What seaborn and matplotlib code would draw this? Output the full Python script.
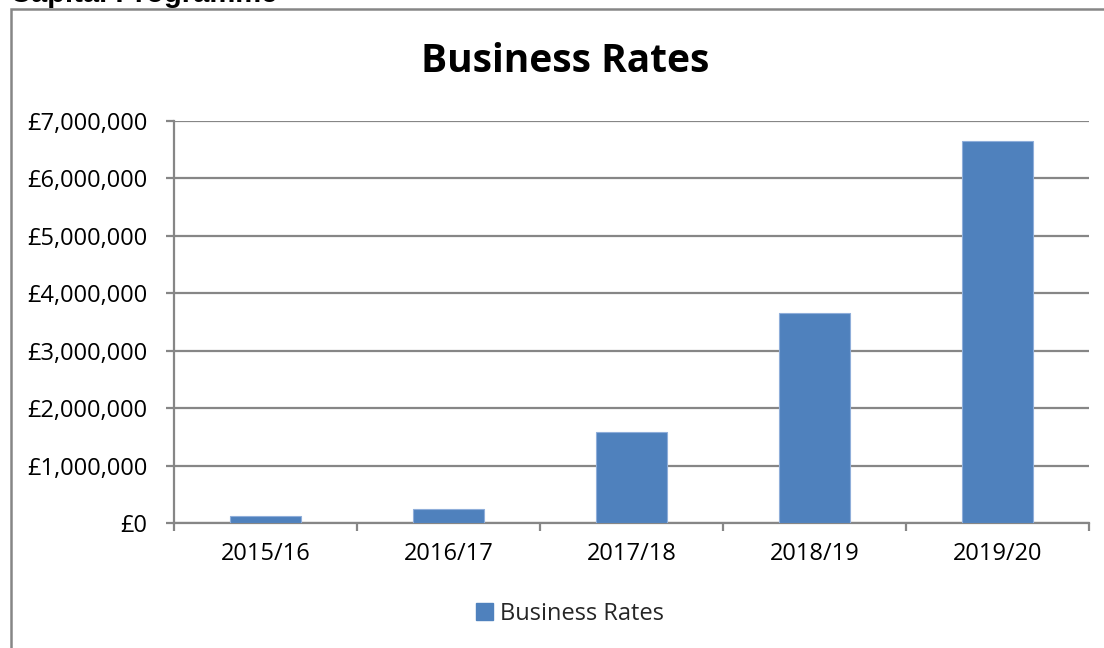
import matplotlib
matplotlib.use("Agg")
import matplotlib.pyplot as plt
import matplotlib.patches as mpatches
from matplotlib.ticker import FuncFormatter, MultipleLocator
import seaborn as sns
import pandas as pd

years = ["2015/16", "2016/17", "2017/18", "2018/19", "2019/20"]
business_rates = [130000, 245000, 1590000, 3650000, 6650000]
series_name = "Business Rates"
chart_title = "Business Rates"
page_heading = "Capital Programme"

sns.set_theme(style="white")
plt.rcParams["font.family"] = ["Open Sans", "DejaVu Sans"]

df = pd.DataFrame({"Year": years, "Value": business_rates})

W, H = 1104, 648
fig = plt.figure(figsize=(W / 100, H / 100), dpi=100)
fig.patch.set_facecolor("white")

ax = fig.add_axes([174 / W, 1 - 523 / H, (1089 - 174) / W, (523 - 121) / H])

bar_color = "#4F81BD"
grid_color = "#868686"
sns.barplot(data=df, x="Year", y="Value", color=bar_color, width=0.383,
            saturation=1, edgecolor="#8FAEDA", linewidth=0.8, ax=ax,
            label=series_name, zorder=3)

ax.set_ylim(0, 7000000)
ax.set_xlim(-0.5, len(years) - 0.5)
ax.yaxis.set_major_locator(MultipleLocator(1000000))
ax.yaxis.set_major_formatter(FuncFormatter(lambda v, p: f"£{int(v):,}"))
ax.grid(axis="y", color=grid_color, linewidth=1.6, zorder=0)
ax.set_axisbelow(True)
ax.set_xlabel("")
ax.set_ylabel("")

for s in ["top", "right"]:
    ax.spines[s].set_visible(False)
for s in ["left", "bottom"]:
    ax.spines[s].set_color(grid_color)
    ax.spines[s].set_linewidth(1.6)

# x ticks at category boundaries, labels at centres
ax.set_xticks([i - 0.5 for i in range(len(years) + 1)], minor=False)
ax.set_xticklabels([""] * (len(years) + 1))
ax.set_xticks(range(len(years)), minor=True)
ax.set_xticklabels(years, minor=True)
ax.tick_params(axis="x", which="major", direction="out", length=6, width=1.6,
               color=grid_color, bottom=True)
ax.tick_params(axis="x", which="minor", length=0, pad=14, labelsize=17,
               labelcolor="black", bottom=True)
ax.tick_params(axis="y", which="major", direction="out", length=6, width=1.6,
               color=grid_color, left=True, pad=13, labelsize=17, labelcolor="black")

# title
fig.text(565 / W, 1 - 62 / H, chart_title, ha="center", va="center",
         fontsize=28, fontweight="bold", color="black")

# legend
handle = mpatches.Patch(color=bar_color, label=series_name)
leg = fig.legend(handles=[handle], loc="center", bbox_to_anchor=(570 / W, 1 - 614 / H),
                 frameon=False, fontsize=17, handlelength=0.7, handleheight=0.7,
                 handletextpad=0.3)
if ax.legend_ is not None:
    ax.legend_.remove()

# outer chart frame (partly cut off at right and bottom)
frame = mpatches.Rectangle((11 / W, -0.1), 1.2, 1 - 9 / H + 0.1,
                           transform=fig.transFigure, fill=False,
                           edgecolor=grid_color, linewidth=1.8, clip_on=False)
fig.add_artist(frame)

# page heading, mostly cut off at the top edge as in the source page
fig.text(10 / W, 1 - 2 / H, page_heading, ha="left", va="baseline",
         fontsize=21, fontweight="bold", color="black",
         family=["Liberation Sans", "DejaVu Sans"])

fig.savefig("out.png", dpi=100, facecolor="white")
